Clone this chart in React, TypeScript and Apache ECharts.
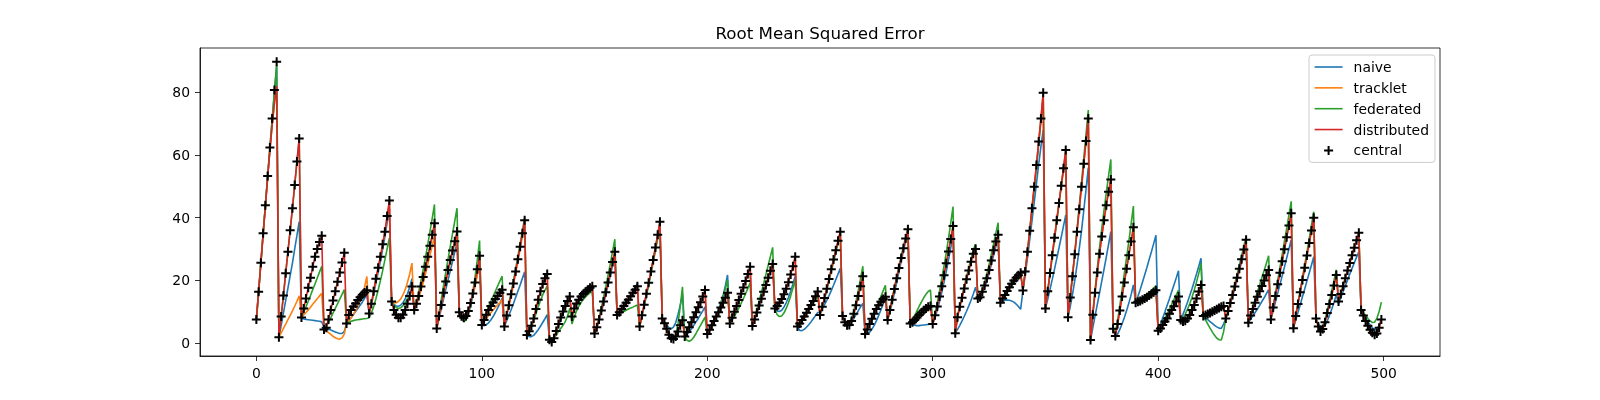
import React, { useEffect, useRef } from 'react';
import * as echarts from 'echarts';

// RMSE per time step, one value per step (x = 0..499)
const central = [
    7.5, 16.3, 25.6, 35, 44, 53.3, 62.4, 71.7, 80.8, 89.8,
    1.8, 8.4, 15.1, 22.2, 29.1, 36, 43, 50.4, 57.9, 65.3,
    8.1, 11, 14.2, 17.6, 20.8, 24.3, 27.5, 30, 32.2, 34.2,
    4.3, 4.8, 7.5, 10.5, 13.5, 16.5, 19.5, 22.5, 25.7, 28.8,
    6.2, 8.9, 10.5, 11.6, 12.6, 13.7, 14.6, 15.4, 16.1, 16.8,
    9.4, 12.5, 16.5, 20.5, 24, 27.5, 31.5, 35.5, 40.5, 45.5,
    13.2, 10.5, 9, 8, 8, 9, 10.5, 12.5, 15, 18,
    10.5, 12.5, 15, 18, 21, 24.3, 27.5, 31, 34.5, 38.2,
    4.6, 8.6, 12.1, 16, 19.6, 23.3, 26.5, 29.5, 32.5, 35.6,
    9.8, 8.5, 8, 8.6, 10.2, 12.7, 15.8, 19.3, 23.5, 27.8,
    5.7, 7.3, 9, 10.5, 11.8, 12.9, 14, 15, 16, 17,
    5.2, 8.7, 12, 15.5, 19, 22.8, 26.7, 30.7, 35, 39.2,
    2.5, 3.7, 5.5, 7.8, 10.8, 13.8, 16.5, 18.8, 20.6, 22,
    1, 0.3, 1.5, 3.8, 6, 8.1, 10, 11.8, 13.4, 14.8,
    8.4, 11, 12.6, 13.8, 14.8, 15.6, 16.3, 17, 17.6, 18.1,
    3, 5, 7.5, 10.3, 13.2, 16.2, 19.3, 22.5, 25.8, 29.1,
    8.9, 9.8, 10.8, 11.8, 12.8, 13.8, 14.9, 16, 17, 18.1,
    5.2, 8.8, 12.2, 15.7, 19.2, 22.8, 26.5, 30.5, 34.5, 38.7,
    7.8, 6.3, 4.5, 2.6, 1.5, 1.2, 2, 3.6, 5.6, 7.2,
    2, 3.5, 5, 6.6, 8.2, 9.8, 11.4, 13, 14.8, 16.9,
    2.8, 4.2, 5.6, 7, 8.4, 9.8, 11.3, 12.8, 14.4, 16,
    6.2, 8, 9.9, 11.8, 13.7, 15.7, 17.7, 19.8, 22, 24.3,
    5.4, 7.5, 9.7, 11.9, 14.1, 16.3, 18.5, 20.8, 23, 25.2,
    11, 11.8, 12.8, 14, 15.5, 17.3, 19.4, 21.8, 24.5, 27.5,
    5.2, 6.2, 7.3, 8.4, 9.6, 10.8, 12.1, 13.4, 14.9, 16.4,
    8.9, 11.5, 14.3, 17.3, 20.4, 23.5, 26.6, 29.6, 32.6, 35.5,
    8.6, 6.6, 5.6, 5.7, 7, 9.3, 12, 15, 18.1, 21.3,
    2.8, 4.3, 6, 7.7, 9.3, 10.8, 12, 13.1, 14, 14.7,
    7.3, 10.5, 13.8, 17.2, 20.6, 23.9, 27.1, 30.2, 33.3, 36.3,
    6.2, 6.6, 7.3, 8.1, 8.9, 9.7, 10.4, 11, 11.5, 11.8,
    6, 8.8, 11.6, 14.8, 18.1, 21.6, 25.4, 29.2, 33.2, 37.3,
    3.1, 8.2, 11.5, 14.4, 17.4, 20.3, 23.1, 25.9, 28.5, 30,
    14.2, 14.6, 16.3, 18.3, 20.6, 23.3, 26.3, 29.6, 32.4, 34.5,
    12.8, 14.2, 15.3, 16.6, 17.8, 18.9, 19.9, 20.8, 21.6, 22.4,
    16.7, 22.8, 29.1, 35.8, 43, 49.9, 56.8, 64.3, 71.7, 79.9,
    11, 16.5, 22.3, 28, 33.6, 39.2, 44.7, 50.2, 55.8, 61.6,
    8.2, 14.5, 21.3, 28.3, 35.5, 42.7, 49.9, 57.2, 64.5, 71.7,
    0.9, 9, 16, 22.5, 28.5, 34, 39.2, 44, 48.3, 52.2,
    4.5, 2.2, 6, 10.3, 14.8, 19.3, 23.7, 28, 32.4, 36.9,
    12.8, 13.1, 13.4, 13.8, 14.2, 14.6, 15.1, 15.6, 16.2, 16.8,
    3.9, 4.6, 5.7, 6.8, 7.8, 9.3, 10.5, 11.7, 13.2, 14.8,
    7.3, 6.8, 7.1, 7.8, 8.9, 10.5, 12.1, 14.2, 16.4, 18.5,
    8.6, 8.9, 9.2, 9.5, 9.9, 10.3, 10.7, 11.1, 11.5, 11.8,
    7.8, 10.2, 12.7, 15.3, 18, 20.8, 23.7, 26.7, 29.8, 32.9,
    6.4, 8.7, 10.8, 12.8, 14.7, 16.5, 18.2, 19.9, 21.6, 23.3,
    7.5, 11.3, 15, 18.7, 22.4, 26.1, 29.9, 33.7, 37.5, 41.4,
    4.7, 8.6, 12.4, 16.2, 20.1, 24, 27.9, 31.9, 35.9, 40,
    7.8, 5.2, 3.6, 4.4, 6.6, 9.5, 12.4, 15.3, 18.3, 21.7,
    13.2, 15.6, 18.1, 20.6, 23.1, 25.5, 28, 30.4, 32.8, 35.2,
    10.5, 8.7, 7, 5.5, 4.2, 3.2, 2.6, 3, 4.8, 7.5,
];

const naive = [
    7.5, 16.3, 25.5, 34.8, 43.8, 53, 62, 71, 80, 88.5,
    1.8, 5.5, 9.5, 13.5, 17.5, 21.5, 25.5, 30, 34.3, 38.7,
    7.8, 7.6, 7.5, 7.4, 7.3, 7.2, 7.1, 7, 6.9, 6.7,
    5, 4.7, 4.4, 4.1, 3.8, 3.5, 3.2, 3, 3, 3.6,
    6.2, 7, 8, 9, 10, 11, 12, 13, 14.2, 15.5,
    9.4, 12, 15.5, 19, 22.5, 26, 29.8, 33.8, 38.3, 43,
    13.2, 12.3, 11.8, 11.7, 12, 12.8, 14, 15.7, 17.8, 20.5,
    10.5, 12.3, 14.8, 17.5, 20.5, 23.7, 27, 30.5, 34, 37.5,
    4.6, 7.7, 10.8, 13.9, 17, 20, 23, 26, 29, 32,
    9.8, 8.5, 7.8, 8.1, 9.4, 11.8, 14.8, 18.3, 22, 26,
    5.7, 5.5, 5.8, 6.4, 7.3, 8.4, 9.7, 11.1, 12.6, 14.2,
    5.2, 7, 8.8, 10.6, 12.5, 14.5, 16.5, 18.5, 20.6, 22.7,
    2.5, 2, 2, 2.4, 3.2, 4.2, 5.3, 6.5, 7.7, 9,
    1, 0.5, 1.5, 3.3, 5.3, 7.3, 9.2, 11, 12.6, 14,
    8.4, 10.6, 12.2, 13.4, 14.4, 15.3, 16.1, 16.8, 17.4, 18,
    3, 4.6, 7, 9.7, 12.5, 15.4, 18.4, 21.5, 24.7, 28,
    8.9, 9.5, 10.4, 11.5, 12.6, 13.8, 15, 16.3, 17.6, 19,
    5.2, 8.7, 12.1, 15.5, 19, 22.6, 26.3, 30.2, 34.2, 38.3,
    7.8, 6.8, 5.7, 4.8, 4.5, 5, 6.5, 9, 12, 15.5,
    2, 2.6, 3.5, 4.5, 5.6, 6.7, 7.8, 9, 10.2, 11.5,
    2.8, 4, 5.4, 7, 8.7, 10.6, 12.7, 15.1, 18.2, 21.7,
    6.2, 7.8, 9.6, 11.5, 13.4, 15.4, 17.4, 19.6, 21.9, 24.3,
    5.4, 7.3, 9.3, 11.4, 13.5, 15.6, 17.8, 20, 22.3, 24.6,
    11, 10.2, 10, 10.4, 11.4, 12.8, 14.5, 16.5, 18.8, 21.3,
    5.2, 4, 3.9, 4.3, 5, 5.8, 6.7, 7.7, 8.7, 9.7,
    9.7, 10.9, 12.2, 13.6, 15.1, 16.7, 18.4, 20.2, 22, 23.8,
    8.6, 6.9, 6, 6, 6.7, 7.8, 9, 10.3, 11.5, 12.6,
    2.8, 2.9, 3.4, 4.3, 5.5, 7, 8.7, 10.5, 12.4, 14.3,
    7.3, 9.8, 12.7, 15.9, 19.2, 22.6, 26, 29.3, 32.5, 35.3,
    6.2, 5.8, 5.6, 5.5, 5.5, 5.6, 5.7, 5.8, 5.9, 6,
    6, 8, 10.4, 13.1, 16.1, 19.3, 22.8, 26.5, 30.4, 34.3,
    3.1, 4.3, 5.6, 7, 8.5, 10.1, 11.8, 13.6, 15.6, 17.8,
    14.2, 14.3, 15.8, 17.6, 19.7, 22.2, 25, 28, 30.8, 33,
    12.8, 13.3, 13.6, 13.7, 13.6, 13.4, 13, 12.4, 11.6, 10.7,
    16.7, 21.5, 27, 32.8, 38.8, 44.8, 50.9, 57, 62.8, 68,
    11, 13.9, 17, 20.2, 23.5, 26.9, 30.3, 33.8, 37.3, 40.9,
    8.2, 11.6, 15.5, 19.9, 24.8, 30.1, 35.8, 42.3, 49, 56,
    0.9, 4.8, 8.6, 12.3, 16, 19.8, 23.6, 27.5, 31.5, 35.5,
    4.5, 2.2, 2.8, 4.3, 6.1, 8.1, 10.3, 12.7, 15.4, 18.5,
    12.8, 14.8, 17, 19.3, 21.7, 24.1, 26.6, 29.1, 31.7, 34.4,
    3.9, 5.9, 7.9, 9.9, 12, 14.1, 16.3, 18.5, 20.7, 23,
    7.3, 9.1, 11, 13, 15.1, 17.3, 19.6, 22, 24.5, 27,
    8.6, 8, 7.4, 6.8, 6.2, 5.6, 5.1, 4.7, 4.6, 6,
    7.8, 10, 12.4, 14.9, 17.5, 20.2, 23, 25.9, 28.9, 31.8,
    6.4, 7.5, 8.6, 9.7, 10.8, 12, 13.2, 14.4, 15.7, 17,
    7.5, 10.2, 13, 15.8, 18.6, 21.4, 24.2, 27.1, 30, 32.9,
    4.7, 7.2, 9.7, 12.2, 14.7, 17.2, 19.8, 22.3, 24.9, 27.5,
    7.8, 6.2, 5.2, 5, 5.6, 7, 8.8, 10.8, 13, 15.3,
    12.5, 14.4, 16.3, 18.2, 20.1, 22, 23.8, 25.6, 27.4, 29.1,
    10.5, 9.2, 8, 6.8, 5.7, 4.8, 4.3, 4.5, 5.6, 7.6,
];

const federated = [
    7.5, 16.3, 25.6, 35, 44, 53.3, 62.4, 71.5, 80.3, 88.8,
    1.8, 8.4, 15.1, 22.2, 29.1, 36, 43, 50.4, 57.9, 65.3,
    8.1, 9.8, 11.5, 13.3, 15.1, 17, 18.8, 20.7, 22.6, 24.5,
    4.3, 5, 6.5, 8, 9.5, 11, 12.5, 14, 15.5, 17,
    6.2, 6.6, 6.9, 7.1, 7.3, 7.4, 7.5, 7.6, 7.7, 7.8,
    8, 9.5, 11.5, 14, 16.8, 19.8, 23, 26.5, 30, 33.5,
    13.2, 12, 11.3, 11, 11.2, 11.8, 12.8, 14, 15.4, 17,
    10.5, 13, 16.3, 19.8, 23.5, 27.3, 31.3, 35.5, 39.8, 44.2,
    4.6, 9.3, 13.8, 18.2, 22.5, 26.7, 30.8, 34.8, 38.9, 43,
    9.8, 7.8, 6.8, 7.3, 9.2, 12.3, 16.3, 21, 26.5, 32.7,
    5.7, 7.8, 9.8, 11.6, 13.3, 14.9, 16.5, 18.1, 19.7, 21.3,
    5.2, 9, 12.5, 16, 19.8, 23.6, 27.6, 31.6, 35.8, 40,
    2.5, 3.5, 5, 7, 9.3, 11.5, 13.5, 15.3, 16.8, 18.2,
    1, 0.8, 1.5, 2.5, 3.6, 4.6, 5.6, 6.8, 8.5, 11,
    6, 8.3, 10.2, 11.7, 12.9, 13.9, 14.7, 15.4, 16, 16.5,
    3, 5.2, 8, 11.2, 14.6, 18, 21.6, 25.3, 29.2, 33.1,
    8.9, 9.3, 9.7, 10, 10.4, 10.8, 11.1, 11.4, 11.8, 12.1,
    5.2, 8.4, 11.7, 15, 18.4, 22, 25.6, 29.4, 33.3, 37.2,
    7.8, 5.8, 3.8, 2, 1, 1, 2.5, 6, 11.5, 17.9,
    2, 0.8, 0.5, 0.9, 1.8, 3, 4.3, 5.6, 6.9, 8.2,
    2.8, 3.8, 5, 6.5, 8.2, 10.1, 12.2, 14.6, 17.2, 20.1,
    6.2, 7.3, 8.5, 9.8, 11.2, 12.6, 14.1, 15.7, 17.4, 19.2,
    5.4, 8, 10.7, 13.4, 16.1, 18.9, 21.8, 24.7, 27.6, 30.5,
    11, 9, 8.4, 8.6, 9.5, 11, 12.8, 15, 17.5, 20.1,
    5.2, 6, 7, 8, 9.1, 10.2, 11.4, 12.6, 13.8, 15,
    8.9, 11.3, 13.9, 16.8, 19.8, 22.8, 25.8, 28.8, 31.8, 34.7,
    8.6, 6.8, 6, 6.4, 7.9, 10.3, 13.3, 16.8, 20.6, 24.5,
    2.8, 4.2, 5.8, 7.5, 9.3, 11.1, 13, 14.8, 16.6, 18.4,
    7.3, 10.7, 14.1, 17.6, 21, 24.3, 27.5, 30.7, 33.8, 36.8,
    6.2, 7.3, 8.7, 10.2, 11.7, 13.1, 14.4, 15.5, 16.4, 16.9,
    6, 9.3, 12.8, 16.5, 20.4, 24.5, 28.8, 33.4, 38.3, 43.5,
    3.1, 8.5, 12, 15, 18.1, 21.1, 24, 26.9, 29.7, 31.5,
    14.2, 15, 17, 19.4, 22, 25, 28.3, 31.7, 35, 38.4,
    12.8, 13.9, 15, 16.1, 17.2, 18.3, 19.3, 20.3, 21.2, 22,
    16.7, 22.5, 28.7, 35.2, 42.2, 49, 56, 63.3, 70.6, 78.5,
    11, 16.2, 21.8, 27.4, 33, 38.6, 44.2, 49.8, 55.2, 60.6,
    8.2, 14.7, 21.7, 28.9, 36.3, 43.8, 51.3, 58.9, 66.6, 74.4,
    0.9, 9.5, 17, 24, 30.5, 36.7, 42.5, 48, 53.4, 58.6,
    4.5, 3, 7.2, 12, 17, 22.2, 27.3, 32.5, 38, 43.7,
    12.8, 13.3, 13.8, 14.3, 14.9, 15.5, 16.1, 16.8, 17.5, 18.2,
    3.9, 5.2, 6.5, 7.9, 9.3, 10.8, 12.3, 13.8, 15.3, 16.9,
    7.3, 8, 9.2, 10.7, 12.5, 14.6, 16.9, 19.4, 22.2, 25.4,
    8.6, 7.3, 6, 4.7, 3.5, 2.4, 1.5, 1, 0.9, 3.5,
    7.8, 10.5, 13.2, 16, 18.9, 21.8, 24.8, 27.8, 30.9, 34,
    6.4, 9, 11.5, 13.9, 16.2, 18.5, 20.8, 23.1, 25.4, 27.8,
    7.5, 11.7, 15.8, 19.9, 24, 28.2, 32.4, 36.6, 40.9, 45.2,
    4.7, 8.8, 12.8, 16.8, 20.9, 25, 29.1, 33.3, 37.6, 41.9,
    7.8, 5.5, 4.3, 5, 7.4, 10.4, 13.5, 16.7, 20, 23.3,
    13.2, 15.7, 18.2, 20.7, 23.2, 25.7, 28.2, 30.6, 33, 35.4,
    10.5, 9.6, 8.7, 7.8, 7, 6.5, 6.6, 7.8, 10, 13,
];

// where the distributed run differs from central (first climb)
const distributedHead = [7.5, 16.3, 25.5, 34.7, 43.7, 52.8, 61.5, 69.5, 76.5, 82];
const distributed = [...distributedHead, ...central.slice(distributedHead.length)];

// tracklet is visible only in the first 130 steps, afterwards it lies under distributed
const trackletHead = [
    7.5, 16.3, 25.5, 34.7, 43.7, 52.8, 61.5, 69.5, 76.5, 82,
    1.8, 3.2, 4.6, 6, 7.4, 8.8, 10.2, 11.7, 13.3, 15,
    8.1, 8.9, 9.7, 10.5, 11.4, 12.3, 13.2, 14.1, 15, 15.8,
    4.5, 3.9, 3.3, 2.7, 2.1, 1.6, 1.3, 1.2, 1.6, 2.8,
    6.2, 7, 8, 9.1, 10.3, 11.7, 13.3, 15.2, 17.8, 21.2,
    9.4, 12.3, 16.2, 20.2, 23.8, 27.3, 31.3, 35.3, 40.2, 45,
    13.2, 12.8, 12.8, 13.2, 14, 15.3, 17, 19.3, 22, 25.5,
    10.5, 12, 14.2, 16.7, 19.3, 22, 25, 28, 31, 34,
    4.6, 8.3, 11.8, 15.4, 18.9, 22.4, 25.6, 28.6, 31.6, 34.5,
    9.8, 9, 8.7, 9.2, 10.6, 12.6, 15.3, 18.4, 21.8, 25.3,
    5.7, 6.8, 7.8, 8.7, 9.6, 10.5, 11.3, 12.1, 12.9, 13.7,
    5.2, 8.5, 11.7, 15, 18.5, 22.2, 26, 30, 34.2, 38.4,
    2.5, 3.7, 5.5, 7.8, 10.7, 13.6, 16.3, 18.6, 20.4, 21.7,
];
const tracklet = [...trackletHead, ...distributed.slice(trackletHead.length)];

const lineNames = ['naive', 'tracklet', 'federated', 'distributed'];
const lineColors = ['#1f77b4', '#ff7f0e', '#2ca02c', '#d62728'];
const lineValues = [naive, tracklet, federated, distributed];
const xTicks = [0, 100, 200, 300, 400, 500];
const yTicks = [0, 20, 40, 60, 80];

const FONT = '"DejaVu Sans", sans-serif';
const PLUS = 'path://M3.5,0H5.5V3.5H9V5.5H5.5V9H3.5V5.5H0V3.5H3.5Z';
const LEGEND_LINE = 'path://M0,0H28V1.6H0Z';

const toPairs = (values: number[]) => values.map((v, i) => [i, v]);

const App: React.FC = () => {
    const chartRef = useRef<HTMLDivElement>(null);

    useEffect(() => {
        if (!chartRef.current) return;
        const chart = echarts.init(chartRef.current, undefined, { renderer: 'svg' });

        const axisCommon = {
            type: 'value' as const,
            splitLine: { show: false },
            axisLine: { show: true, onZero: false, lineStyle: { color: '#000', width: 0.8 } },
            axisTick: { show: true, length: 5, lineStyle: { color: '#000', width: 0.8 } },
        };

        chart.setOption({
            animation: false,
            graphic: [
                {
                    type: 'text',
                    x: 820,
                    y: 33,
                    style: {
                        text: 'Root Mean Squared Error',
                        fill: '#000',
                        font: `16.7px ${FONT}`,
                        textAlign: 'center',
                        verticalAlign: 'middle',
                    },
                },
            ],
            grid: {
                left: 200,
                right: 160,
                top: 48,
                bottom: 44,
                show: true,
                borderColor: '#000',
                borderWidth: 0.8,
            },
            legend: {
                orient: 'vertical',
                left: 1309,
                top: 55,
                padding: [5, 6, 5, 5.6],
                itemWidth: 28,
                itemHeight: 9,
                itemGap: 6.85,
                selectedMode: false,
                backgroundColor: 'rgba(255,255,255,0.8)',
                borderColor: '#cccccc',
                borderWidth: 1,
                borderRadius: 3,
                textStyle: {
                    fontFamily: FONT,
                    fontSize: 13.9,
                    lineHeight: 14,
                    color: '#000',
                    padding: [0, 0, 0, 6],
                },
                data: [
                    ...lineNames.map(name => ({ name, icon: LEGEND_LINE })),
                    { name: 'central', icon: PLUS, itemStyle: { color: '#000', opacity: 1 } },
                ],
            },
            xAxis: {
                ...axisCommon,
                min: -25,
                max: 525,
                axisTick: { ...axisCommon.axisTick, customValues: xTicks },
                axisLabel: {
                    customValues: xTicks,
                    margin: 10,
                    color: '#000',
                    fontFamily: FONT,
                    fontSize: 13.9,
                },
            },
            yAxis: {
                ...axisCommon,
                min: -4.2,
                max: 94.2,
                axisTick: { ...axisCommon.axisTick, customValues: yTicks },
                axisLabel: {
                    customValues: yTicks,
                    margin: 10,
                    color: '#000',
                    fontFamily: FONT,
                    fontSize: 13.9,
                },
            },
            series: [
                ...lineNames.map((name, k) => ({
                    name,
                    type: 'line',
                    data: toPairs(lineValues[k]),
                    symbol: 'none',
                    showSymbol: false,
                    color: lineColors[k],
                    itemStyle: { color: lineColors[k] },
                    lineStyle: { color: lineColors[k], width: 1.6 },
                    silent: true,
                    emphasis: { disabled: true },
                    z: 2 + k,
                })),
                {
                    name: 'central',
                    type: 'scatter',
                    data: toPairs(central),
                    symbol: PLUS,
                    symbolSize: 9,
                    itemStyle: { color: '#000', opacity: 1 },
                    silent: true,
                    emphasis: { disabled: true },
                    z: 10,
                },
            ],
        });

        return () => chart.dispose();
    }, []);

    return (
        <div
            ref={chartRef}
            style={{ position: 'fixed', left: 0, top: 0, width: 1600, height: 400 }}
        />
    );
};

export default App;
